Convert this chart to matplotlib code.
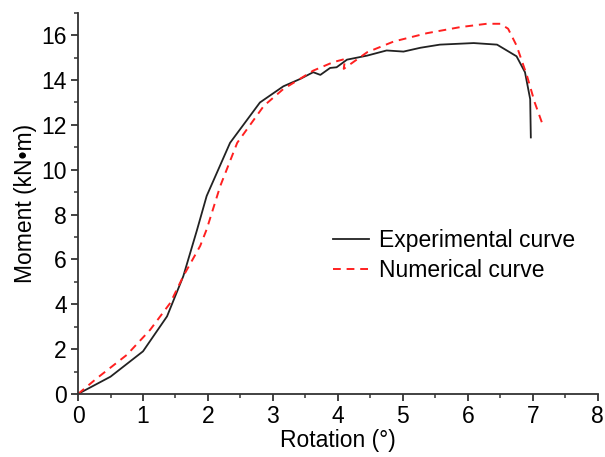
import numpy as np
import matplotlib
matplotlib.use('Agg')
import matplotlib.pyplot as plt
from matplotlib.ticker import MultipleLocator

# experimental curve (rotation in deg, moment in kN*m)
exp_rot = [0.0, 0.5, 1.0, 1.37, 1.62, 1.83, 1.98, 2.34, 2.8, 3.16, 3.42, 3.62, 3.73,
           3.88, 3.98, 4.14, 4.45, 4.75, 5.01, 5.27, 5.57, 6.09, 6.45, 6.75, 6.88,
           6.96, 6.97]
exp_mom = [0.0, 0.77, 1.9, 3.46, 5.25, 7.3, 8.83, 11.2, 13.0, 13.72, 14.05, 14.35, 14.23,
           14.54, 14.57, 14.91, 15.09, 15.32, 15.27, 15.44, 15.58, 15.65, 15.58, 15.06, 14.35,
           13.15, 11.44]

# numerical curve
num_rot = [0.0, 0.29, 0.75, 1.11, 1.42, 1.62, 1.88, 1.98, 2.19, 2.45, 2.86, 3.16, 3.37,
           3.62, 3.93, 4.11, 4.09, 4.45, 4.86, 5.37, 5.88, 6.29, 6.5, 6.62, 6.75, 6.91,
           7.03, 7.14]
num_mom = [0.0, 0.7, 1.74, 2.86, 4.06, 5.25, 6.6, 7.34, 9.28, 11.2, 12.85, 13.6, 13.97,
           14.42, 14.8, 14.94, 14.5, 15.24, 15.72, 16.09, 16.36, 16.51, 16.51, 16.29, 15.54,
           14.2, 13.0, 12.11]

plt.rcParams['font.family'] = ['Liberation Sans', 'DejaVu Sans']
plt.rcParams['font.size'] = 16.5

fig = plt.figure(figsize=(6.05, 4.57), dpi=100)
ax = fig.add_axes((0.129, 0.138, 0.859, 0.834))

ax.plot(exp_rot, exp_mom, color='#222222', lw=1.3, label='Experimental curve')
ax.plot(num_rot, num_mom, color='#ff2020', lw=1.4, ls=(0, (4, 3)), label='Numerical curve')

ax.set_xlim(0, 8)
ax.set_ylim(0, 17)
ax.xaxis.set_major_locator(MultipleLocator(1))
ax.xaxis.set_minor_locator(MultipleLocator(0.5))
ax.yaxis.set_major_locator(MultipleLocator(2))
ax.yaxis.set_minor_locator(MultipleLocator(1))

ax.spines["top"].set_visible(False)
ax.spines["right"].set_visible(False)
ax.spines["bottom"].set_linewidth(1.3)
ax.spines["left"].set_linewidth(1.3)
ax.spines["bottom"].set_color('#333333')
ax.spines["left"].set_color('#333333')
ax.tick_params(which='major', length=5, width=1.3, direction='out', color='#333333', pad=3)
ax.tick_params(which='minor', length=3, width=1.1, direction='out', color='#333333')

ax.set_xlabel('Rotation (°)', labelpad=1)
ax.set_ylabel('Moment (kN•m)', labelpad=3)

ax.legend(loc='center left', bbox_to_anchor=(0.55, 0.44), bbox_transform=fig.transFigure,
          frameon=False, handlelength=1.6, handletextpad=0.4, labelspacing=0.3,
          borderaxespad=0, borderpad=0, fontsize=16.5)

fig.savefig('out.png', dpi=100)
